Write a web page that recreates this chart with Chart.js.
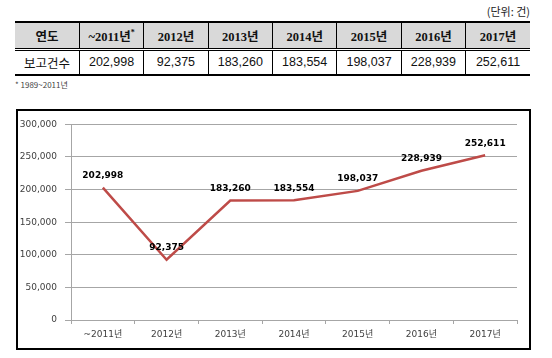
<!DOCTYPE html>
<html>
<head>
<meta charset="utf-8">
<script src="https://cdn.jsdelivr.net/npm/chart.js@4.4.1/dist/chart.umd.min.js"></script>
<style>
  html, body { margin:0; padding:0; background:#fff; }
  body { width:552px; height:358px; position:relative; overflow:hidden; font-family:"Noto Sans CJK KR", "Liberation Sans", sans-serif; }
  #unit { position:absolute; right:22px; top:3px; font-size:11px; color:#222; }
  table { position:absolute; left:15px; top:21px; width:515px; border-collapse:collapse; table-layout:fixed; }
  th, td { text-align:center; padding:0; color:#111; }
  thead tr { background:#d9d9d9; height:27px; border-top:2px solid #000; border-bottom:3px double #000; }
  th { font-family:"Liberation Serif", "Noto Sans CJK KR", serif; font-weight:bold; font-size:12.5px; }
  tbody tr { height:26px; border-bottom:2px solid #000; }
  td { font-family:"Liberation Sans", "Noto Sans CJK KR", sans-serif; font-size:12.5px; }
  th + th, td + td { border-left:1px solid #000; }
  sup { font-size:8px; vertical-align:6px; }
  #note { position:absolute; left:15px; top:79px; font-size:8px; color:#444; }
  #box { position:absolute; left:16px; top:109px; width:511px; height:237px; border:2px solid #000; }
  #box canvas { display:block; }
</style>
</head>
<body>
<div id="unit">(단위: 건)</div>
<table>
  <thead><tr id="hdr"></tr></thead>
  <tbody><tr id="row"></tr></tbody>
</table>
<div id="note">* 1989~2011년</div>
<div id="box"><canvas id="c" width="511" height="237"></canvas></div>
<script>
const rowHeader = "연도";
const rowName = "보고건수";
const categories = ["~2011년", "2012년", "2013년", "2014년", "2015년", "2016년", "2017년"];
const reports = [202998, 92375, 183260, 183554, 198037, 228939, 252611];
const yTicks = [0, 50000, 100000, 150000, 200000, 250000, 300000];

const fmt = v => v.toLocaleString("en-US");

// table
const hdr = document.getElementById("hdr");
const row = document.getElementById("row");
let th = document.createElement("th"); th.textContent = rowHeader; hdr.appendChild(th);
categories.forEach((c, i) => {
  const t = document.createElement("th");
  t.textContent = c;
  if (i === 0) { const s = document.createElement("sup"); s.textContent = "*"; t.appendChild(s); }
  hdr.appendChild(t);
});
let td = document.createElement("td"); td.textContent = rowName; row.appendChild(td);
reports.forEach(v => { const d = document.createElement("td"); d.textContent = fmt(v); row.appendChild(d); });

const valueLabels = {
  id: "valueLabels",
  afterDatasetsDraw(chart) {
    const ctx = chart.ctx;
    const meta = chart.getDatasetMeta(0);
    ctx.save();
    ctx.font = "bold 9px 'DejaVu Sans', sans-serif";
    ctx.fillStyle = "#000";
    ctx.textAlign = "center";
    ctx.textBaseline = "middle";
    meta.data.forEach((pt, i) => {
      ctx.fillText(fmt(chart.data.datasets[0].data[i]), pt.x, pt.y - 12);
    });
    ctx.restore();
  }
};

new Chart(document.getElementById("c"), {
  type: "line",
  data: {
    labels: categories,
    datasets: [{
      data: reports,
      borderColor: "#be4b48",
      borderWidth: 2.5,
      pointRadius: 0,
      tension: 0,
      fill: false
    }]
  },
  options: {
    responsive: false,
    animation: false,
    layout: { padding: { top: 10, right: 12, left: 0, bottom: 0 } },
    plugins: { legend: { display: false }, tooltip: { enabled: false } },
    scales: {
      x: {
        offset: true,
        grid: { offset: true, drawOnChartArea: false, drawTicks: true, tickLength: 4, color: "#a6a6a6" },
        border: { color: "#a6a6a6", width: 1 },
        ticks: { color: "#404040", font: { family: "'DejaVu Sans', 'Noto Sans CJK KR', sans-serif", size: 9 }, padding: 5, maxRotation: 0 },
        afterFit(s) { s.height = 28; }
      },
      y: {
        min: 0, max: 300000,
        afterBuildTicks(s) { s.ticks = yTicks.map(v => ({ value: v })); },
        grid: { color: "#a6a6a6", tickLength: 6 },
        border: { color: "#a6a6a6", width: 1 },
        ticks: { color: "#404040", font: { family: "'DejaVu Sans', sans-serif", size: 9 }, padding: 8, callback: v => fmt(v) },
        afterFit(s) { s.width = 53; }
      }
    }
  },
  plugins: [valueLabels]
});
</script>
</body>
</html>
